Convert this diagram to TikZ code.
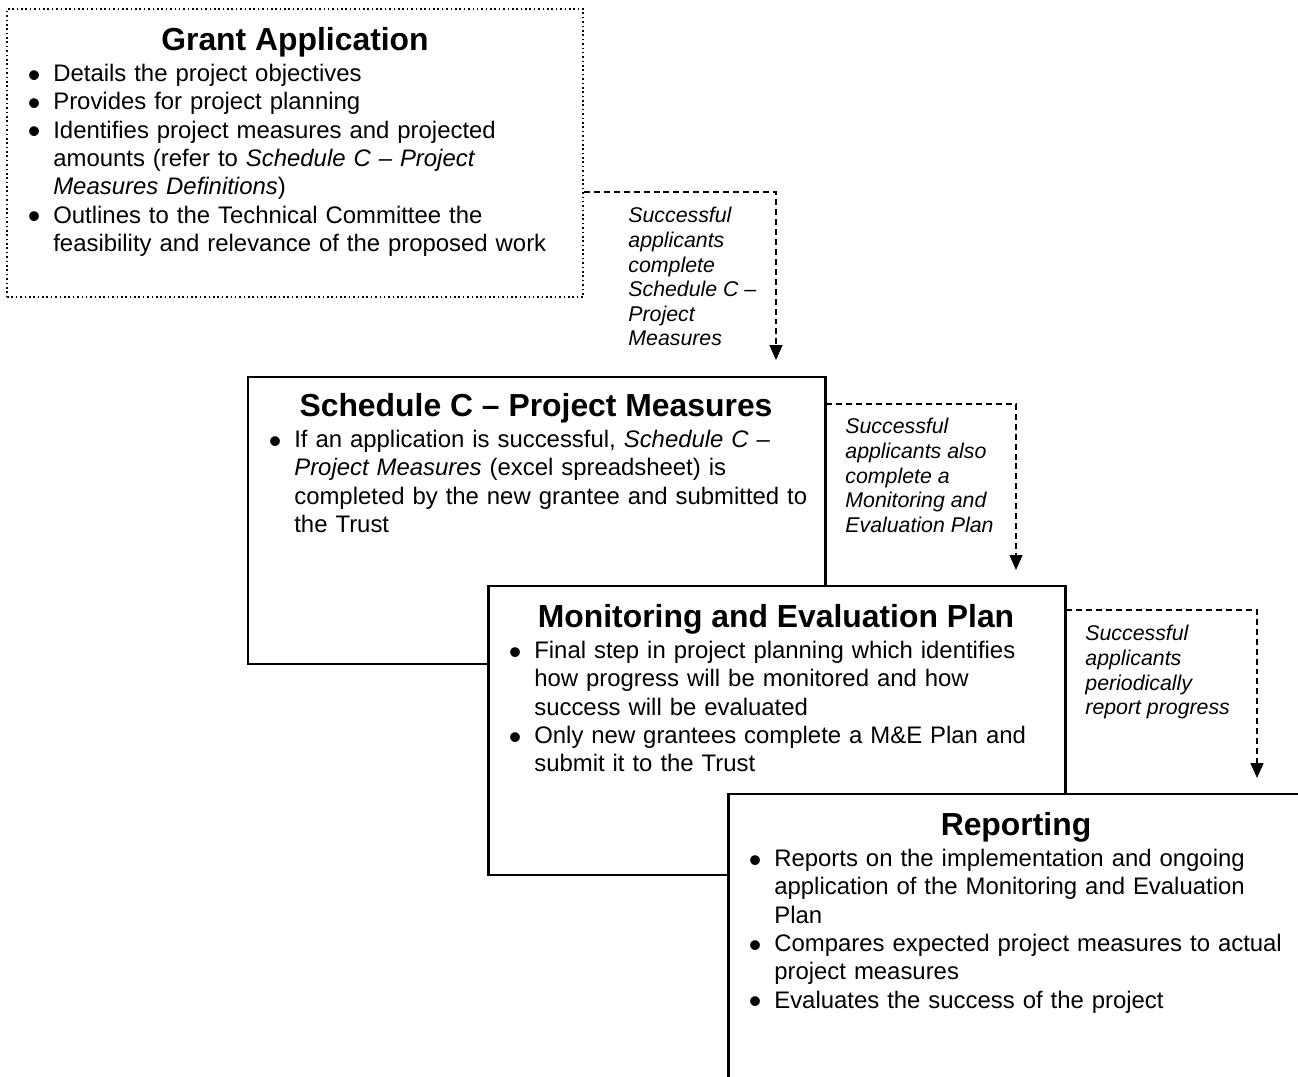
\documentclass[tikz,border=0pt]{standalone}
\usepackage{fontspec}
\setmainfont{Liberation Sans}
\usepackage{enumitem}
\usetikzlibrary{fit,arrows.meta}
\newcommand\bigdot{\raisebox{-2.8pt}{\scalebox{1.5}{\textbullet}}}
\newcommand\dotlist[1]{%
  \begin{itemize}[nosep,leftmargin=9pt,labelsep=6.5pt,label=\bigdot]#1\end{itemize}}

\begin{document}
\begin{tikzpicture}[x=0.502pt, y=-0.502pt,
  box/.style = {draw, line width=1.5pt, fill=white, inner sep=0pt},
  dotbox/.style = {draw, line width=0.8pt, dash pattern=on 0.8pt off 1.4pt, inner sep=0pt},
  head/.style = {font=\fontsize{16}{19}\selectfont\bfseries, inner sep=0pt},
  body/.style = {anchor=north west, text width=290pt, align=left, inner sep=0pt, font=\fontsize{12}{14.2}\selectfont},
  note/.style = {anchor=north west, align=left, inner sep=0pt, font=\fontsize{10.7}{12.35}\selectfont\itshape},
  flow/.style = {line width=0.75pt, dash pattern=on 3pt off 2pt, -{Triangle[width=6.5pt,length=7.5pt]}}]
	\path[use as bounding box] (0,0) rectangle (1298,1077);
	\clip (0,0) rectangle (1298,1077);
	% grant application
	\node[dotbox, fit={(7,9) (583,297)}] (grant) {};
	\node[head] (grantT) at (295,42) {Grant Application};
	\node[body] (grantB) at (35,53) {\dotlist{
		\item Details the project objectives
		\item Provides for project planning
		\item Identifies project measures and projected\newline amounts (refer to \textit{Schedule C -- Project\newline Measures Definitions})
		\item Outlines to the Technical Committee the\newline feasibility and relevance of the proposed work}};
	\node[note] (note1) at (628,207) {Successful\\applicants\\complete\\Schedule C --\\Project\\Measures};
	\coordinate (k1) at (0,192);
	\coordinate (t1) at (776,360);
	\draw[flow] (grant.east |- k1) -| (t1);
	% schedule c
	\node[box, fit={(248,377) (825,664)}] (sched) {};
	\node[head] (schedT) at (536,408) {Schedule C -- Project Measures};
	\node[body] (schedB) at (276,419) {\dotlist{
		\item If an application is successful, \textit{Schedule C --}\newline \textit{Project Measures} (excel spreadsheet) is\newline completed by the new grantee and submitted to\newline the Trust}};
	\node[note] (note2) at (845,418) {Successful\\applicants also\\complete a\\Monitoring and\\Evaluation Plan};
	\coordinate (k2) at (0,404);
	\coordinate (t2) at (1016,570);
	\draw[flow] (sched.east |- k2) -| (t2);
	% monitoring and evaluation
	\node[box, fit={(488,586) (1065,875)}] (mande) {};
	\node[head] (mandeT) at (776,619) {Monitoring and Evaluation Plan};
	\node[body] (mandeB) at (516,630) {\dotlist{
		\item Final step in project planning which identifies\newline how progress will be monitored and how\newline success will be evaluated
		\item Only new grantees complete a M\&E Plan and\newline submit it to the Trust}};
	\node[note] (note3) at (1085,625) {Successful\\applicants\\periodically\\report progress};
	\coordinate (k3) at (0,610);
	\coordinate (t3) at (1257,778);
	\draw[flow] (mande.east |- k3) -| (t3);
	% reporting
	\node[box, fit={(728,794) (1305,1083)}] (report) {};
	\node[head] (reportT) at (1016,827) {Reporting};
	\node[body] (reportB) at (756,838) {\dotlist{
		\item Reports on the implementation and ongoing\newline application of the Monitoring and Evaluation\newline Plan
		\item Compares expected project measures to actual\newline project measures
		\item Evaluates the success of the project}};
\end{tikzpicture}
\end{document}
